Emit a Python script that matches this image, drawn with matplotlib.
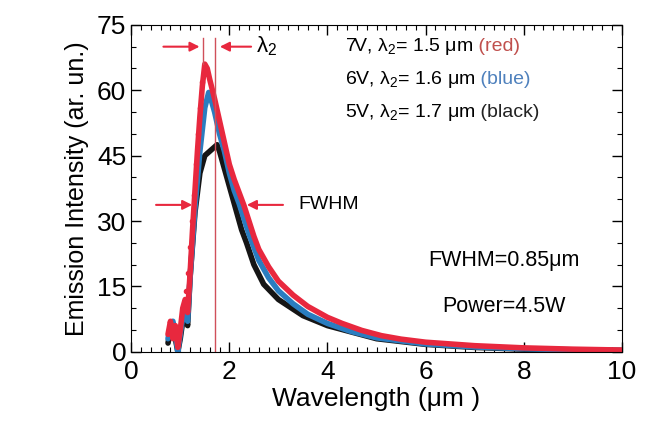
import matplotlib.pyplot as plt
from matplotlib.ticker import MultipleLocator

plt.rcParams['font.family'] = ['Liberation Sans', 'DejaVu Sans']
plt.rcParams['mathtext.fontset'] = 'custom'
plt.rcParams['mathtext.rm'] = 'Liberation Sans'
plt.rcParams['mathtext.it'] = 'Liberation Sans'

# emission spectra
red_wl = [0.75, 0.8, 0.85, 0.9, 0.95, 1.0, 1.05, 1.1, 1.15, 1.2, 1.25, 1.3, 1.35, 1.4,
          1.45, 1.5, 1.55, 1.6, 1.7, 1.8, 1.9, 2.0, 2.1, 2.2, 2.3, 2.4, 2.5, 2.6, 2.8,
          3.0, 3.3, 3.6, 4.0, 4.3, 4.7, 5.1, 5.5, 6.0, 7.0, 8.0, 9.0, 10.0]
red_int = [4, 7, 3, 6, 1, 5, 10, 12, 9, 18, 28, 37, 46, 54,
           61, 66, 65, 62.5, 58, 53, 48, 43, 39.5, 36.5, 33.5, 30, 26.5, 23.5, 19.5,
           16.2, 13, 10.4, 7.9, 6.5, 4.9, 3.7, 2.9, 2.2, 1.4, 0.9, 0.6, 0.4]

blue_wl = [0.75, 0.8, 0.85, 0.9, 0.95, 1.0, 1.05, 1.1, 1.15, 1.2, 1.3, 1.4, 1.5,
           1.58, 1.65, 1.7, 1.8, 1.9, 2.0, 2.1, 2.2, 2.4, 2.6, 2.8, 3.0, 3.3, 3.6,
           4.0, 4.5, 5.0, 6.0, 7.0, 8.0, 9.0, 10.0]
blue_int = [3, 6, 7, 4, 0, 4, 8, 9, 7, 17, 33, 46, 56,
            59.5, 57, 55, 50, 46, 41, 37, 34, 27, 21, 17, 14, 11, 8.6,
            6.5, 4.6, 3.2, 1.8, 1.1, 0.7, 0.45, 0.3]

black_wl = [0.75, 0.8, 0.85, 0.9, 0.95, 1.0, 1.05, 1.1, 1.15, 1.2, 1.3, 1.4, 1.5,
            1.6, 1.7, 1.75, 1.8, 1.9, 2.0, 2.1, 2.2, 2.25, 2.35, 2.5, 2.7, 3.0,
            3.5, 4.0, 5.0, 6.0, 7.0, 8.0, 9.0, 10.0]
black_int = [2, 5, 6, 3, 0, 3, 7, 8, 6, 17, 32, 41, 45,
             46, 47, 47.5, 46, 42, 38, 34, 30, 28, 25, 20, 15.5, 12,
             8.3, 6, 3, 1.7, 1.0, 0.6, 0.4, 0.3]

# dotted red points on the rising edge
dots_wl = [1.12, 1.16, 1.2, 1.24, 1.28, 1.32, 1.36, 1.4, 1.44]
dots_int = [14, 18, 24, 30, 36, 43, 50, 56, 62]

red = '#e8283e'
blue = '#2a7dc0'

fig = plt.figure(figsize=(6.56, 4.29), dpi=100)
ax = fig.add_axes([0.2, 0.18, 0.748, 0.762])

ax.plot(black_wl, black_int, color='#151515', lw=4, solid_capstyle='round')
ax.plot(blue_wl, blue_int, color=blue, lw=4, solid_capstyle='round')
ax.plot(red_wl, red_int, color=red, lw=4, solid_capstyle='round')
ax.plot(dots_wl, dots_int, 'o', color=red, ms=3)

# lambda_2 markers
ax.plot([1.70, 1.70], [0, 72], color='#d0505a', lw=1)
ax.plot([1.47, 1.47], [66, 72], color='#d0505a', lw=1)

arrow = dict(arrowstyle='-|>', color=red, lw=1.5, mutation_scale=14)
ax.annotate('', xy=(1.45, 70), xytext=(0.6, 70), arrowprops=arrow)
ax.annotate('', xy=(1.75, 70), xytext=(2.5, 70), arrowprops=arrow)
ax.annotate('', xy=(1.3, 33.7), xytext=(0.45, 33.7), arrowprops=arrow)
ax.annotate('', xy=(2.3, 33.7), xytext=(3.15, 33.7), arrowprops=arrow)

ax.text(2.55, 70, 'λ$_2$', fontsize=16, va='center', ha='left')
ax.text(3.4, 33.7, 'FWHM', fontsize=14, va='center', ha='left')

lines = [('7V, λ$_2$= 1.5 μm', ' (red)', '#c0504d', 70),
         ('6V, λ$_2$= 1.6 μm', ' (blue)', '#4f81bd', 62.5),
         ('5V, λ$_2$= 1.7 μm', ' (black)', '#222222', 55)]
for main, tag, col, yy in lines:
    t = ax.text(4.35, yy, main, fontsize=14, va='center', ha='left')
    ax.annotate(tag, xy=(1, 0.5), xycoords=t, va='center', ha='left',
                fontsize=14, color=col)

ax.text(7.6, 21, 'FWHM=0.85μm', fontsize=15.5, ha='center', va='center')
ax.text(7.6, 10.5, 'Power=4.5W', fontsize=15.5, ha='center', va='center')

ax.set_xlim(0, 10)
ax.set_ylim(0, 75)
ax.set_xticks([0, 2, 4, 6, 8, 10])
ax.set_yticks([0, 15, 30, 45, 60, 75])
ax.xaxis.set_minor_locator(MultipleLocator(0.2))
ax.yaxis.set_minor_locator(MultipleLocator(5))
ax.tick_params(which='both', direction='in', top=True, right=True)
ax.tick_params(which='major', length=7, width=1, labelsize=19)
ax.tick_params(which='minor', length=3.5, width=0.8)
ax.tick_params(axis='x', which='major', pad=6)

ax.set_xlabel('Wavelength (μm )', fontsize=19, labelpad=2)
ax.set_ylabel('Emission Intensity (ar. un.)', fontsize=18, labelpad=6)

fig.savefig('out.png', dpi=100)
